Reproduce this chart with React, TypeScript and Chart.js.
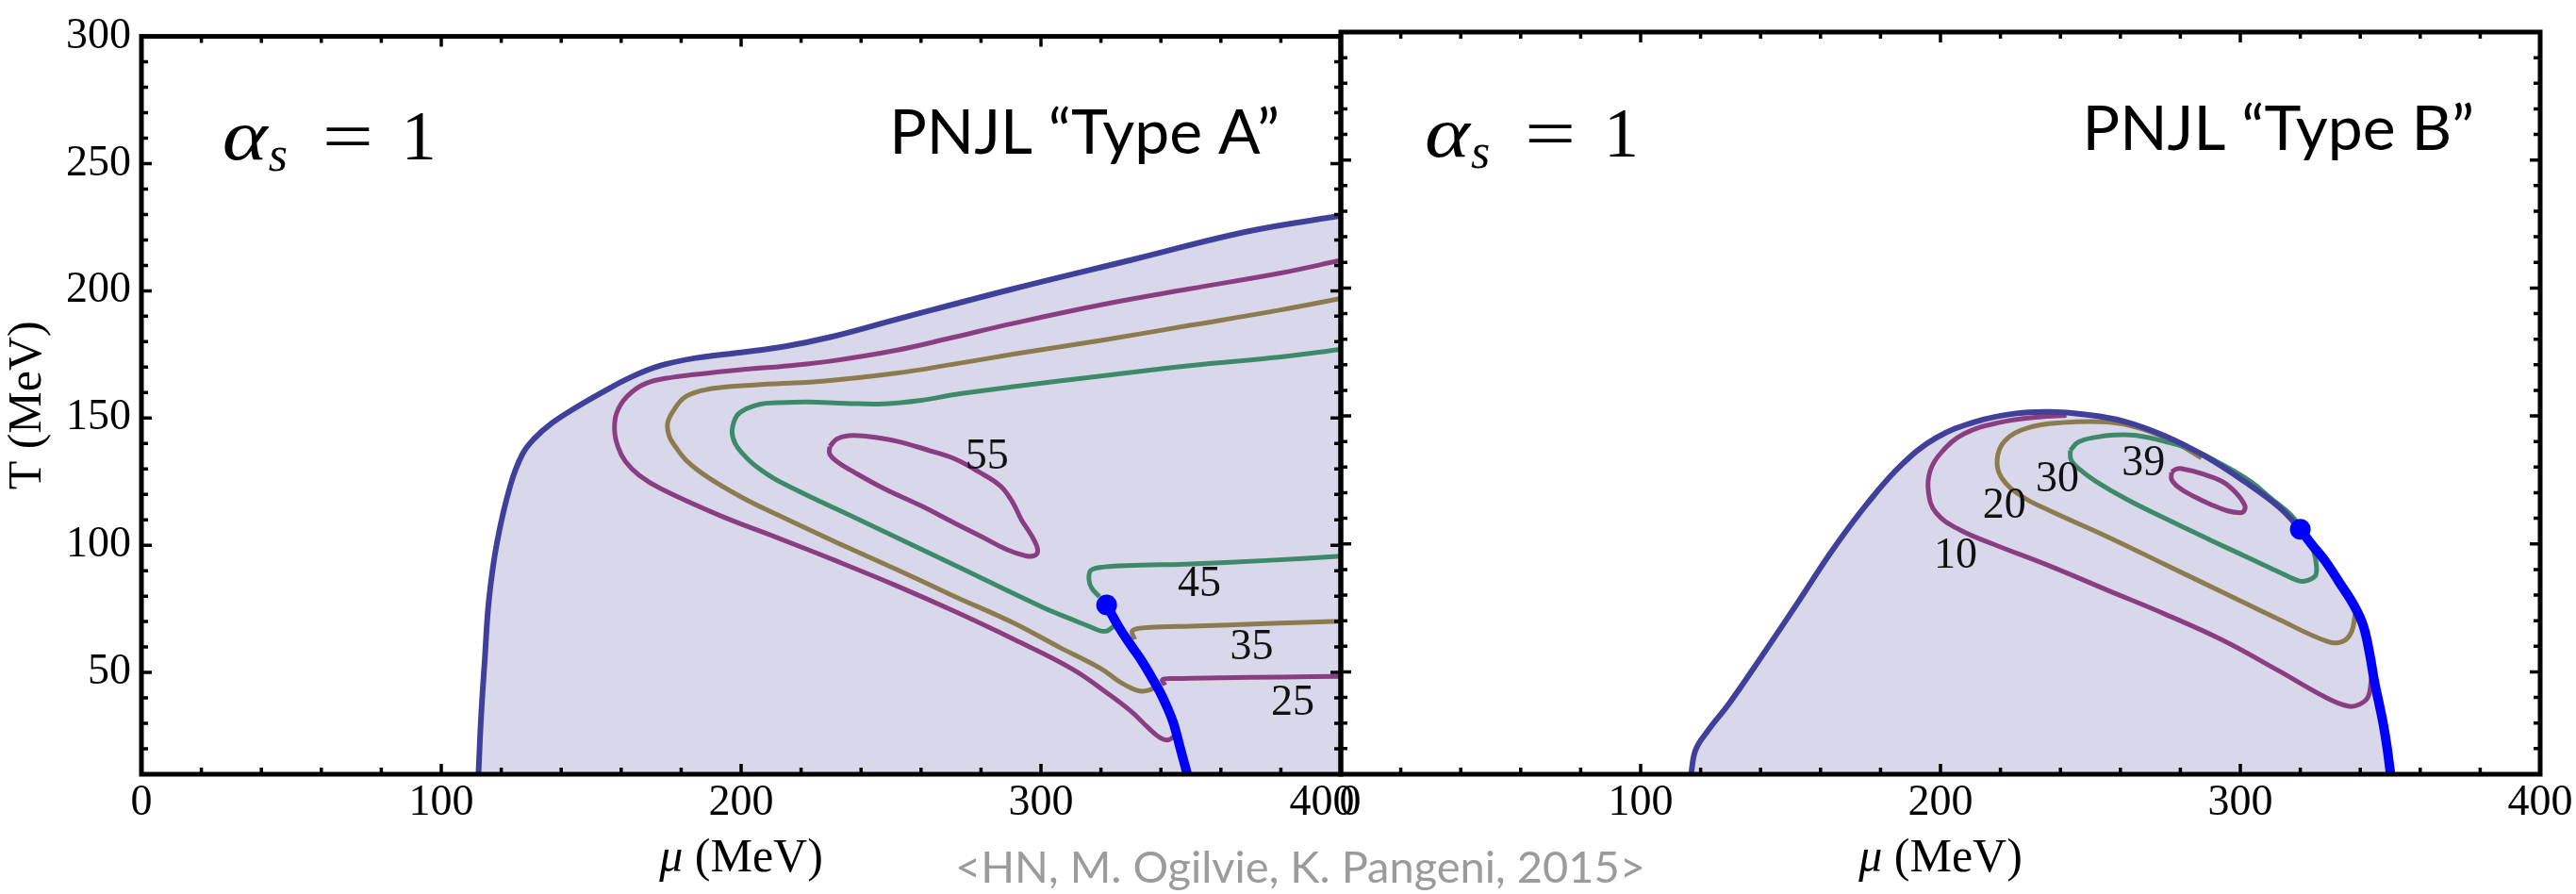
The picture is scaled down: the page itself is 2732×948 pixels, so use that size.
import React, { useEffect, useRef } from "react";
import { Chart, registerables } from "chart.js";

Chart.register(...registerables);

const PAGE_W = 2732;
const PAGE_H = 948;

const X_MIN = 0;
const X_MAX = 400;
const Y_MIN = 10;
const Y_MAX = 300;
const X_TICKS = [0, 100, 200, 300, 400];
const Y_TICKS = [50, 100, 150, 200, 250, 300];

type P = [number, number];

// ---------- Panel A: PNJL "Type A" ----------
const boundaryA: P[] = [
  [112.4, 10], [113.3, 33], [114.5, 55], [115.9, 78.6], [118.6, 101.2], [123.1, 123.8],
  [127.1, 135.9], [131, 141.9], [136.9, 148], [144.7, 154], [153.5, 160], [163.3, 166.1],
  [173.1, 170.6], [184.9, 173.6], [200.6, 175.9], [214.3, 178.1], [230, 181.9],
  [251.6, 188.7], [290.8, 200.8], [330, 212.1], [369.2, 223.4], [400, 229.5],
];
const c25A: P[] = [
  [400, 212], [380, 207], [349.6, 200.8], [320, 194.5], [290.8, 187.2], [270, 181.5],
  [251.6, 176.6], [230, 172.4], [216.3, 170.6], [200, 169], [190, 167.8], [177, 166],
  [168, 163.5], [162, 158.5], [158.5, 152], [157.8, 145], [159, 138.5], [161.4, 133],
  [166, 127.5], [173.1, 122.3], [192.7, 111.8], [212, 103], [232, 93.7], [252, 84],
  [271.2, 74], [291, 63], [310.4, 51.4], [322, 42], [330, 34.8], [336, 28],
  [339.8, 24.3], [342.5, 23.5], [345, 25.5],
];
const c25A_right: P[] = [[341.3, 45], [340.6, 47.2], [345, 47.6], [360, 47.9], [380, 48.2], [400, 48.5]];
const c35A: P[] = [
  [400, 197], [380, 192.5], [349.6, 186.4], [320, 180.5], [290.8, 175.1], [270, 171],
  [251.6, 167.6], [228, 164.6], [204.5, 163], [193, 162], [186.9, 160.8], [181, 158],
  [177.5, 153], [175.5, 148], [176, 143], [178, 138.9], [182, 133], [188.8, 126.8],
  [200, 119], [212.4, 111.8], [232, 101], [251.6, 90.6], [271, 80], [290.8, 69.5],
  [306, 60], [320.2, 51.4], [326, 46.5], [330, 43.9], [333, 42.7], [336, 43], [338.6, 44.6],
];
const c35A_right: P[] = [[331.3, 63], [330.4, 66.2], [333, 67.4], [340, 67.9], [350, 68.2], [375, 69.2], [400, 70.1]];
const c45A: P[] = [
  [400, 177], [380, 174], [349.6, 170.6], [320, 166.5], [290.8, 162.3], [270, 159],
  [261.4, 157.2], [247.6, 155.6], [235, 155.8], [222.2, 156.3], [212, 156], [206.5, 155.5],
  [201.5, 153.5], [198.6, 151], [197, 145], [198, 140], [200.6, 135.9], [205, 131],
  [212.4, 125.3], [241.8, 108.7], [271.2, 92.2], [300.6, 75.6], [310, 71], [316.3, 68],
  [320, 66.3], [322.2, 66.4], [324.3, 68.2],
];
const c45A_right: P[] = [
  [319.5, 79.8], [317, 83], [316, 86.6], [316.7, 90.2], [321.2, 91.5], [331.3, 92.1],
  [348.1, 92.6], [375, 94], [400, 95.7],
];
const c55A: P[] = [
  [229.6, 138.9], [232, 141.8], [235.9, 143.1], [242, 142.8], [251.6, 141], [262, 137.5],
  [271.2, 134], [279, 129], [286.4, 123.4], [290.5, 117], [293.5, 110], [296.5, 104.5],
  [298.6, 99.7], [298.8, 97], [297.5, 95.8], [295, 95.8], [288.8, 98.2], [280, 103.5],
  [271.2, 108.7], [260, 115.5], [247.6, 122.3], [238, 128.5], [232, 132.9], [229.5, 136],
  [229.6, 138.9],
];
const firstOrderA: P[] = [
  [321.9, 76.5], [325.8, 68.2], [329.8, 61], [333.6, 54.6], [336.8, 48.3], [339.7, 42.3],
  [342.2, 36], [344.2, 30], [346.5, 20], [348.8, 10],
];
const criticalA: P[] = [[321.9, 76.5]];
const contourLabelsA = ["55", "45", "35", "25"];
const contourLabelPosA: P[] = [[282, 134.5], [352.8, 84.6], [370.3, 59.6], [384, 37.8]];

// ---------- Panel B: PNJL "Type B" ----------
const boundaryB: P[] = [
  [116.8, 10], [118.3, 19.4], [122.1, 26.5], [129.8, 38.1], [141.2, 57.5], [152.7, 77.6],
  [164.1, 97.8], [175.6, 115.8], [187, 130.9], [198.5, 141.4], [211.8, 147.8], [225.2, 151],
  [236.6, 151.6], [248.1, 150.6], [261.5, 147.8], [274.8, 142.2], [288.2, 134.3],
  [301.5, 124.3], [313, 114.3], [320, 105.7],
];
const firstOrderB: P[] = [
  [320, 105.7], [324, 99.5], [328.2, 93.5], [333, 85], [337.8, 76.2], [341, 68],
  [343.3, 56], [344.6, 47], [346.2, 38], [347.6, 30], [349, 20], [350.1, 10],
];
const criticalB: P[] = [[320, 105.7]];
const c10B: P[] = [
  [343.8, 48], [342.6, 40.2], [339.7, 37.3], [335.9, 36.6], [328.2, 40.2], [313, 50.3],
  [293.9, 62.5], [274.8, 72.6], [255.7, 81.9], [236.6, 91.3], [217.6, 99.9], [206.1, 105.7],
  [198.5, 112.2], [196, 120.1], [196.6, 128.7], [200.4, 135.9], [208, 143.1], [219.5, 147.4],
  [232.8, 149.6], [242, 150.2],
];
const c20B: P[] = [
  [338.3, 72.5], [337, 65.4], [334, 61.8], [329.2, 61.8], [313, 70.4], [293.9, 81.2],
  [274.8, 92], [255.7, 102.8], [236.6, 112.9], [227.1, 118.6], [220.4, 125.8], [218.9, 133],
  [221.4, 140.2], [229, 145.3], [240.5, 147.4], [255.7, 147.6], [267, 145], [278, 139.8],
  [287, 133.6],
];
const c30B: P[] = [
  [243.3, 136.6], [246, 139.8], [251.9, 141.7], [258, 142.6], [265.3, 142.4], [275, 140],
  [284.4, 136.6], [294, 131], [303.4, 124.4], [310, 118], [316.8, 111.4], [320.5, 106],
  [322.5, 102.8], [324.5, 97], [325.4, 91.3], [325, 87.5], [322.5, 85.8], [319.7, 85.5],
  [312, 89.5], [303.4, 94.2], [290, 101.5], [274.8, 110], [262, 117.5], [251.9, 124.4],
  [246, 129.5], [243.5, 133], [243.3, 136.6],
];
const c39B: P[] = [
  [277.1, 128], [278.5, 129.2], [280.5, 129.4], [287, 127.5], [293.9, 124.4], [298.5, 120],
  [301.5, 115], [301.2, 112.8], [300, 112.2], [295.8, 112.9], [290, 115.5], [284.4, 118.6],
  [279.5, 122], [277.1, 125.1], [277.1, 128],
];
const contourLabelsB = ["10", "20", "30", "39"];
const contourLabelPosB: P[] = [[205, 95.3], [221.3, 114.5], [239, 125], [267.7, 131.2]];

// ---------- styling ----------
const FILL = "#d9d8ea";
const EDGE = "#40409b";
const PURPLE = "#8b3d81";
const OLIVE = "#8c7b4e";
const GREEN = "#3c8a6a";
const BLUE = "#0000ff";
const SERIF = '"Liberation Serif", "Times New Roman", serif';
const SANS = 'Lato, "Open Sans", "Noto Sans", sans-serif';
const TICK_SIZE = 46;
const TICK_PAD = 3;

const pts = (a: P[]) => a.map(([x, y]) => ({ x, y }));

function curve(data: P[], color: string, width: number, order: number) {
  return {
    data: pts(data),
    borderColor: color,
    borderWidth: width,
    pointRadius: 0,
    tension: 0.4,
    fill: false,
    order,
  };
}

function areaFill(data: P[], order: number) {
  return {
    data: pts(data),
    borderWidth: 0,
    borderColor: "rgba(0,0,0,0)",
    backgroundColor: FILL,
    pointRadius: 0,
    tension: 0.4,
    fill: "start",
    order,
  };
}

function dot(data: P[], order: number) {
  return {
    data: pts(data),
    showLine: false,
    pointRadius: 11,
    pointBackgroundColor: BLUE,
    pointBorderWidth: 0,
    order,
  };
}

const framePlugin = {
  id: "pnjlFrame",
  afterDatasetsDraw(chart: any) {
    const { ctx, chartArea: a } = chart;
    const xs = chart.scales.x;
    const ys = chart.scales.y;
    ctx.save();
    ctx.strokeStyle = "#000";
    ctx.lineWidth = 3.5;
    ctx.beginPath();
    for (let v = X_MIN; v <= X_MAX; v += 20) {
      const px = xs.getPixelForValue(v);
      const len = v % 100 === 0 ? 11 : 7;
      ctx.moveTo(px, a.bottom);
      ctx.lineTo(px, a.bottom - len);
      ctx.moveTo(px, a.top);
      ctx.lineTo(px, a.top + len);
    }
    for (let v = Y_MIN; v <= Y_MAX; v += 10) {
      const py = ys.getPixelForValue(v);
      const len = v % 50 === 0 ? 11 : 7;
      ctx.moveTo(a.left, py);
      ctx.lineTo(a.left + len, py);
      ctx.moveTo(a.right, py);
      ctx.lineTo(a.right - len, py);
    }
    ctx.stroke();
    ctx.lineWidth = 5;
    ctx.strokeRect(a.left, a.top, a.right - a.left, a.bottom - a.top);
    ctx.restore();
  },
};

interface Panel {
  name: string;
  padding: { left: number; right: number; top: number; bottom: number };
  showY: boolean;
  datasets: any[];
  labels: string[];
  labelPos: P[];
  title: string;
  titleAt: P;
  alphaAt: P;
  watermark: boolean;
  edgeTick: number; // tick label moved to stay inside the panel image
  edgeShift: number;
}

function makeTextPlugin(p: Panel) {
  return {
    id: "pnjlText" + p.name,
    afterDraw(chart: any) {
      const { ctx, chartArea: a } = chart;
      const xs = chart.scales.x;
      const ys = chart.scales.y;
      ctx.save();
      // shifted edge tick label
      ctx.fillStyle = "#000";
      ctx.textAlign = "center";
      ctx.textBaseline = "middle";
      ctx.font = `${TICK_SIZE}px ${SERIF}`;
      ctx.fillText(
        String(p.edgeTick),
        xs.getPixelForValue(p.edgeTick) + p.edgeShift,
        a.bottom + TICK_PAD + (TICK_SIZE * 1.2) / 2
      );
      // contour labels
      ctx.fillStyle = "#111";
      ctx.font = `46px ${SERIF}`;
      p.labels.forEach((t, i) => {
        ctx.fillText(t, xs.getPixelForValue(p.labelPos[i][0]), ys.getPixelForValue(p.labelPos[i][1]));
      });
      // panel title
      ctx.fillStyle = "#000";
      ctx.textBaseline = "alphabetic";
      ctx.font = `66px ${SANS}`;
      ctx.fillText(p.title, xs.getPixelForValue(p.titleAt[0]), ys.getPixelForValue(p.titleAt[1]));
      // alpha_s = 1
      const ax = xs.getPixelForValue(p.alphaAt[0]);
      const ay = ys.getPixelForValue(p.alphaAt[1]);
      ctx.textAlign = "left";
      ctx.save();
      ctx.translate(ax, ay);
      ctx.scale(1.2, 1);
      ctx.font = `italic 76px ${SERIF}`;
      ctx.fillText("α", 0, 0);
      const wA = ctx.measureText("α").width * 1.2;
      ctx.restore();
      ctx.font = `italic 52px ${SERIF}`;
      ctx.fillText("s", ax + wA + 1, ay + 12);
      ctx.font = `74px ${SERIF}`;
      ctx.save();
      ctx.translate(ax + 106, ay);
      ctx.scale(1.3, 1);
      ctx.fillText("=", 0, 0);
      ctx.restore();
      ctx.fillText("1", ax + 190, ay);
      // mu axis title
      const cx = (a.left + a.right) / 2;
      const cy = a.bottom + 90;
      ctx.textBaseline = "middle";
      ctx.font = `italic 50px ${SERIF}`;
      const wMu = ctx.measureText("μ").width;
      ctx.font = `50px ${SERIF}`;
      const wRest = ctx.measureText(" (MeV)").width;
      const x0 = cx - (wMu + wRest) / 2;
      ctx.font = `italic 50px ${SERIF}`;
      ctx.fillText("μ", x0, cy);
      ctx.font = `50px ${SERIF}`;
      ctx.fillText(" (MeV)", x0 + wMu, cy);
      if (p.watermark) {
        ctx.fillStyle = "#9b9b9b";
        ctx.textAlign = "center";
        ctx.textBaseline = "alphabetic";
        ctx.font = `47px ${SANS}`;
        ctx.fillText("<HN, M. Ogilvie, K. Pangeni, 2015>", 1379, 936);
      }
      ctx.restore();
    },
  };
}

function buildConfig(p: Panel): any {
  return {
    type: "line",
    data: { datasets: p.datasets },
    options: {
      responsive: false,
      animation: false,
      events: [],
      layout: { padding: p.padding },
      plugins: { legend: { display: false }, tooltip: { enabled: false } },
      scales: {
        x: {
          type: "linear",
          min: X_MIN,
          max: X_MAX,
          grid: { display: false, drawTicks: false },
          border: { display: false },
          ticks: {
            font: { family: SERIF, size: TICK_SIZE },
            color: "#000",
            padding: TICK_PAD,
            maxRotation: 0,
            autoSkip: false,
            callback: (v: any) => (v === p.edgeTick ? "" : String(v)),
          },
          afterBuildTicks: (s: any) => {
            s.ticks = X_TICKS.map((v) => ({ value: v }));
          },
          afterFit: (s: any) => {
            s.height = 121;
          },
        },
        y: {
          type: "linear",
          min: Y_MIN,
          max: Y_MAX,
          display: p.showY,
          grid: { display: false, drawTicks: false },
          border: { display: false },
          ticks: {
            font: { family: SERIF, size: TICK_SIZE },
            color: "#000",
            padding: 11,
            autoSkip: false,
          },
          title: {
            display: true,
            text: "T (MeV)",
            font: { family: SERIF, size: 50 },
            color: "#000",
            padding: 0,
          },
          afterBuildTicks: (s: any) => {
            s.ticks = Y_TICKS.map((v) => ({ value: v }));
          },
          afterFit: (s: any) => {
            s.width = p.showY ? 150 : 0;
          },
        },
      },
    },
    plugins: [framePlugin, makeTextPlugin(p)],
  };
}

const panelA: Panel = {
  name: "A",
  padding: { left: 0, right: PAGE_W - 1422, top: 34, bottom: 6 },
  showY: true,
  datasets: [
    dot(criticalA, 0),
    curve(firstOrderA, BLUE, 10, 1),
    curve(boundaryA, EDGE, 6, 2),
    curve(c55A, PURPLE, 5, 3),
    curve(c45A, GREEN, 5, 3),
    curve(c45A_right, GREEN, 5, 3),
    curve(c35A, OLIVE, 5, 3),
    curve(c35A_right, OLIVE, 5, 3),
    curve(c25A, PURPLE, 5, 3),
    curve(c25A_right, PURPLE, 5, 3),
    areaFill(boundaryA, 9),
  ],
  labels: contourLabelsA,
  labelPos: contourLabelPosA,
  title: "PNJL \u201CType A\u201D",
  titleAt: [314.5, 254],
  alphaAt: [27, 251.5],
  watermark: true,
  edgeTick: 400,
  edgeShift: -20,
};

const panelB: Panel = {
  name: "B",
  padding: { left: 1422, right: PAGE_W - 2694, top: 34, bottom: 6 },
  showY: false,
  datasets: [
    dot(criticalB, 0),
    curve(firstOrderB, BLUE, 10, 1),
    curve(boundaryB, EDGE, 6, 2),
    curve(c39B, PURPLE, 5, 3),
    curve(c30B, GREEN, 5, 3),
    curve(c20B, OLIVE, 5, 3),
    curve(c10B, PURPLE, 5, 3),
    areaFill([...boundaryB, ...firstOrderB.slice(1)], 9),
  ],
  labels: contourLabelsB,
  labelPos: contourLabelPosB,
  title: "PNJL \u201CType B\u201D",
  titleAt: [312.7, 254],
  alphaAt: [28, 251.5],
  watermark: false,
  edgeTick: 0,
  edgeShift: 10,
};

export default function App() {
  const refA = useRef<HTMLCanvasElement>(null);
  const refB = useRef<HTMLCanvasElement>(null);

  useEffect(() => {
    document.body.style.margin = "0";
    document.body.style.overflow = "hidden";
    const a = new Chart(refA.current as HTMLCanvasElement, buildConfig(panelA));
    const b = new Chart(refB.current as HTMLCanvasElement, buildConfig(panelB));
    return () => {
      a.destroy();
      b.destroy();
    };
  }, []);

  const cs: React.CSSProperties = { position: "absolute", left: 0, top: 0, width: PAGE_W, height: PAGE_H };
  return (
    <div style={{ position: "relative", width: PAGE_W, height: PAGE_H, background: "#fff" }}>
      <canvas ref={refA} width={PAGE_W} height={PAGE_H} style={cs} />
      <canvas ref={refB} width={PAGE_W} height={PAGE_H} style={cs} />
    </div>
  );
}
